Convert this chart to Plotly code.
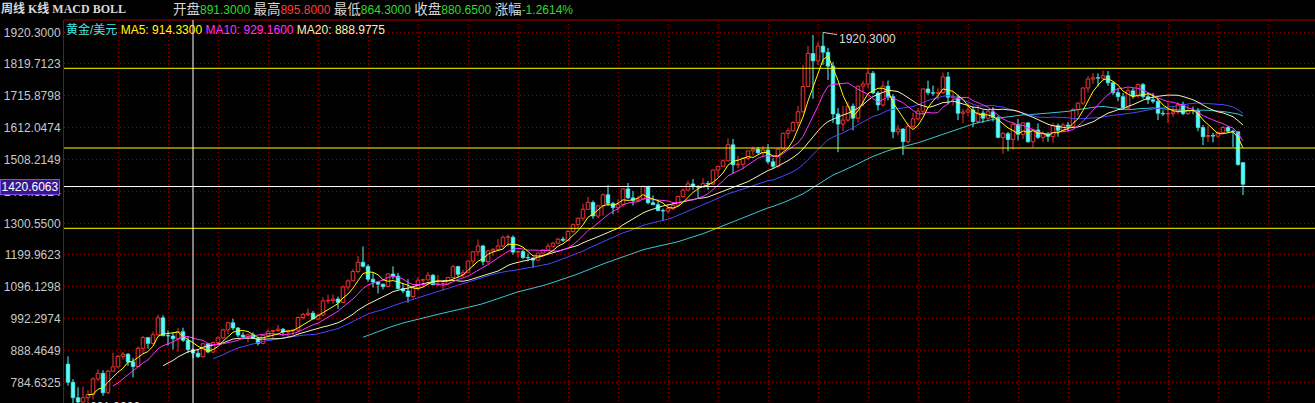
import plotly.graph_objects as go
import pandas as pd

# ---------------- data (weekly gold / USD) ----------------
opens = [845, 786, 736, 722, 736, 746, 797, 815, 752, 822,
         836, 870, 877, 852, 837, 896, 931, 912, 940, 995,
         937, 936, 927, 950, 922, 891.3, 880, 869, 911, 884,
         915, 930, 956, 979, 962, 939, 933, 940, 928, 912,
         938, 951, 954, 958, 949, 953, 955, 996, 1006, 1010,
         991, 1004, 1050, 1051, 1056, 1045, 1095, 1115, 1145, 1175,
         1162, 1120, 1111, 1104, 1096, 1137, 1130, 1090, 1082, 1064,
         1093, 1117, 1118, 1133, 1102, 1105, 1105, 1126, 1161, 1136,
         1141, 1179, 1209, 1228, 1177, 1212, 1217, 1228, 1256, 1256,
         1208, 1210, 1190, 1189, 1182, 1205, 1215, 1227, 1237, 1250,
         1246, 1275, 1297, 1318, 1347, 1369, 1325, 1358, 1394, 1366,
         1352, 1363, 1413, 1384, 1375, 1380, 1421, 1368, 1362, 1343,
         1341, 1349, 1360, 1388, 1409, 1429, 1421, 1418, 1430, 1429,
         1474, 1486, 1504, 1556, 1491, 1493, 1512, 1536, 1542, 1530,
         1539, 1501, 1486, 1542, 1593, 1601, 1628, 1663, 1745, 1852,
         1828, 1876, 1856, 1811, 1656, 1623, 1636, 1681, 1642, 1746,
         1753, 1788, 1724, 1685, 1746, 1712, 1598, 1607, 1566, 1616,
         1640, 1665, 1737, 1725, 1723, 1725, 1776, 1710, 1711, 1658,
         1662, 1669, 1631, 1659, 1642, 1663, 1644, 1580, 1592, 1573,
         1622, 1590, 1627, 1566, 1604, 1580, 1591, 1583, 1618, 1603,
         1620, 1616, 1670, 1691, 1740, 1769, 1773, 1772, 1780, 1757,
         1725, 1712, 1676, 1731, 1714, 1751, 1712, 1702, 1697, 1658,
         1656, 1657, 1662, 1687, 1657, 1667, 1666, 1612, 1582, 1586,
         1584, 1596, 1612, 1600, 1598, 1498]
highs = [870, 796, 770, 772, 760, 802, 828, 825, 826, 882,
         875, 885, 881, 865, 902, 936, 933, 950, 1005, 1003,
         954, 948, 962, 963, 935, 895.8, 894, 914, 914, 918,
         934, 960, 981, 992, 965, 948, 944, 948, 934, 940,
         958, 956, 972, 962, 953, 959, 999, 1011, 1025, 1017,
         1009, 1062, 1070, 1071, 1064, 1100, 1120, 1153, 1195, 1226,
         1168, 1141, 1112, 1106, 1139, 1162, 1141, 1105, 1120, 1095,
         1127, 1122, 1144, 1137, 1134, 1110, 1128, 1167, 1164, 1151,
         1180, 1211, 1249, 1232, 1216, 1221, 1250, 1262, 1265, 1262,
         1214, 1215, 1203, 1191, 1206, 1216, 1236, 1241, 1254, 1258,
         1280, 1300, 1320, 1365, 1387, 1375, 1362, 1398, 1425, 1371,
         1381, 1415, 1432, 1406, 1391, 1424, 1423, 1392, 1376, 1349,
         1364, 1368, 1390, 1415, 1440, 1445, 1425, 1448, 1439, 1476,
         1488, 1509, 1577, 1575, 1520, 1515, 1537, 1550, 1549, 1552,
         1558, 1512, 1545, 1595, 1610, 1632, 1682, 1815, 1877, 1912,
         1890, 1920.3, 1870, 1825, 1675, 1682, 1695, 1690, 1747, 1764,
         1803, 1795, 1730, 1763, 1764, 1720, 1620, 1610, 1627, 1660,
         1675, 1740, 1764, 1748, 1739, 1790, 1792, 1726, 1718, 1672,
         1692, 1680, 1684, 1668, 1667, 1678, 1650, 1597, 1598, 1627,
         1640, 1628, 1630, 1605, 1625, 1600, 1597, 1628, 1625, 1627,
         1630, 1675, 1693, 1742, 1778, 1788, 1787, 1796, 1795, 1762,
         1738, 1724, 1740, 1740, 1755, 1756, 1724, 1724, 1705, 1668,
         1693, 1679, 1694, 1696, 1684, 1680, 1675, 1620, 1617, 1595,
         1600, 1616, 1617, 1605, 1600, 1500]
lows = [775, 681, 700, 708, 710, 730, 790, 742, 748, 820,
        833, 859, 839, 802, 835, 878, 895, 908, 938, 935,
        905, 892, 885, 917, 880, 864.3, 865, 866, 880, 882,
        910, 926, 942, 955, 932, 925, 915, 926, 905, 909,
        935, 927, 949, 937, 932, 939, 949, 989, 1000, 990,
        988, 1000, 1041, 1040, 1024, 1044, 1085, 1113, 1139, 1158,
        1112, 1093, 1074, 1087, 1094, 1120, 1087, 1075, 1044, 1058,
        1083, 1093, 1115, 1101, 1098, 1083, 1104, 1125, 1126, 1126,
        1140, 1164, 1196, 1165, 1169, 1195, 1213, 1222, 1226, 1200,
        1190, 1186, 1178, 1157, 1180, 1192, 1213, 1222, 1233, 1241,
        1243, 1270, 1287, 1310, 1346, 1316, 1318, 1326, 1357, 1330,
        1336, 1355, 1380, 1359, 1370, 1378, 1363, 1360, 1340, 1309,
        1333, 1344, 1356, 1385, 1406, 1410, 1381, 1416, 1410, 1425,
        1452, 1485, 1503, 1462, 1480, 1479, 1507, 1521, 1526, 1515,
        1494, 1478, 1482, 1538, 1577, 1600, 1615, 1660, 1742, 1705,
        1815, 1815, 1766, 1627, 1532, 1600, 1630, 1603, 1628, 1680,
        1740, 1721, 1667, 1680, 1700, 1577, 1586, 1523, 1560, 1610,
        1636, 1650, 1718, 1715, 1702, 1720, 1688, 1683, 1636, 1627,
        1650, 1613, 1625, 1627, 1631, 1631, 1577, 1527, 1535, 1540,
        1570, 1575, 1562, 1547, 1575, 1565, 1566, 1563, 1582, 1598,
        1598, 1610, 1651, 1685, 1725, 1754, 1745, 1765, 1747, 1718,
        1697, 1673, 1672, 1705, 1708, 1705, 1688, 1690, 1636, 1649,
        1626, 1645, 1655, 1652, 1653, 1655, 1600, 1555, 1565, 1564,
        1578, 1594, 1595, 1548, 1488, 1393]
closes = [786, 736, 722, 736, 746, 797, 815, 752, 822, 836,
          870, 877, 852, 837, 896, 931, 912, 940, 995, 937,
          936, 927, 950, 922, 891.9, 880.65, 869, 911, 884, 915,
          930, 956, 979, 962, 939, 933, 940, 928, 912, 938,
          951, 954, 958, 949, 953, 955, 996, 1006, 1010, 991,
          1004, 1050, 1051, 1056, 1045, 1095, 1115, 1145, 1175, 1162,
          1120, 1111, 1104, 1096, 1137, 1130, 1090, 1082, 1064, 1093,
          1117, 1118, 1133, 1102, 1105, 1105, 1126, 1161, 1136, 1141,
          1179, 1209, 1228, 1177, 1212, 1217, 1228, 1256, 1256, 1208,
          1210, 1190, 1189, 1182, 1205, 1215, 1227, 1237, 1250, 1246,
          1275, 1297, 1318, 1347, 1369, 1325, 1358, 1394, 1366, 1352,
          1363, 1413, 1384, 1375, 1380, 1421, 1368, 1362, 1343, 1341,
          1349, 1360, 1388, 1409, 1429, 1421, 1418, 1430, 1429, 1474,
          1486, 1504, 1556, 1491, 1493, 1512, 1536, 1542, 1530, 1539,
          1501, 1486, 1542, 1593, 1601, 1628, 1663, 1745, 1852, 1828,
          1876, 1856, 1811, 1656, 1623, 1636, 1681, 1642, 1746, 1753,
          1788, 1724, 1685, 1746, 1712, 1598, 1607, 1566, 1616, 1640,
          1665, 1737, 1725, 1723, 1725, 1776, 1710, 1711, 1658, 1662,
          1669, 1631, 1659, 1642, 1663, 1644, 1580, 1592, 1573, 1622,
          1590, 1627, 1566, 1604, 1580, 1591, 1583, 1618, 1603, 1620,
          1616, 1670, 1691, 1740, 1769, 1773, 1772, 1780, 1757, 1725,
          1712, 1676, 1731, 1714, 1751, 1712, 1702, 1697, 1658, 1656,
          1657, 1662, 1687, 1657, 1667, 1666, 1612, 1582, 1586, 1584,
          1596, 1612, 1600, 1598, 1492, 1428]

ma_periods = [5, 10, 20, 30, 60]
ma_colors = ["#FFFF00", "#FF30FF", "#F2F2B8", "#4848FF", "#38C8D0"]
legend_ma_values = [914.33, 929.16, 888.9775]      # header legend as shown
crosshair_index = 25
crosshair_price = 1420.6063
level_lines = [1803.9, 1545.5, 1285.2]
ytick_vals = [1920.3, 1819.7123, 1715.8798, 1612.0474, 1508.2149, 1404.3824,
              1300.55, 1199.9623, 1096.1298, 992.2974, 888.4649, 784.6325]
ytick_text = ["1920.3000", "1819.7123", "1715.8798", "1612.0474", "1508.2149", "1404.3824",
              "1300.5500", "1199.9623", "1096.1298", "992.2974", "888.4649", "784.6325"]
xgrid_vals = [10.06 + 10 * k for k in range(25)]

# ---------------- derived ----------------
n = len(closes)
xs = list(range(n))
s = pd.Series(closes, dtype=float)
mas = {p: s.rolling(p).mean() for p in ma_periods}

UP = "#F03434"
DOWN = "#54FCFC"
BG = "#000000"
GRID = "#8C0000"

fig = go.Figure()

# wicks (upper and lower parts, outside the body)
for is_up, col in ((True, UP), (False, DOWN)):
    wx, wy = [], []
    for i in xs:
        o, h, l, c = opens[i], highs[i], lows[i], closes[i]
        if (c >= o) != is_up:
            continue
        top, bot = max(o, c), min(o, c)
        if h > top:
            wx += [i, i, None]
            wy += [top, h, None]
        if l < bot:
            wx += [i, i, None]
            wy += [bot, l, None]
    fig.add_trace(go.Scatter(x=wx, y=wy, mode="lines", line=dict(color=col, width=1),
                             hoverinfo="skip", showlegend=False))

# bodies
for is_up in (True, False):
    bx, bbase, bh = [], [], []
    for i in xs:
        o, c = opens[i], closes[i]
        if (c >= o) != is_up:
            continue
        bx.append(i)
        bbase.append(min(o, c))
        bh.append(max(abs(c - o), 1.5))
    if is_up:
        fig.add_trace(go.Bar(x=bx, y=bh, base=bbase, width=0.72,
                             marker=dict(color=BG, line=dict(color=UP, width=1)),
                             showlegend=False, hoverinfo="skip"))
    else:
        fig.add_trace(go.Bar(x=bx, y=bh, base=bbase, width=0.72,
                             marker=dict(color=DOWN, line=dict(color=DOWN, width=0.6)),
                             showlegend=False, hoverinfo="skip"))

# moving averages (long ones first, so short ones lie on top)
for p, col in reversed(list(zip(ma_periods, ma_colors))):
    fig.add_trace(go.Scatter(x=xs, y=mas[p], mode="lines", line=dict(color=col, width=1),
                             hoverinfo="skip", showlegend=False, connectgaps=False))

# ---------------- layout ----------------
L, T, W, H = 64, 20, 1315, 403
PW, PH = W - L, H - T


def px_x(px):
    return (px - L) / PW


def px_y(py):
    return (H - py) / PH


y_top = 784.63 + (382.7 - T) * 3.242
y_bot = 784.63 - (H - 382.7) * 3.242

fig.update_layout(
    width=W, height=H,
    margin=dict(l=L, r=0, t=T, b=0),
    paper_bgcolor=BG, plot_bgcolor=BG,
    barmode="overlay", showlegend=False,
    font=dict(family="Arial, 'Liberation Sans', 'Noto Sans CJK SC', sans-serif", size=12, color="#C8C8C8"),
    xaxis=dict(range=[-0.8, (W - 68) / 5.0], showticklabels=False, ticks="",
               tickvals=xgrid_vals, showgrid=True, gridcolor=GRID, griddash="1px,3px", gridwidth=1,
               zeroline=False, showline=False, fixedrange=True),
    yaxis=dict(range=[y_bot, y_top], tickvals=ytick_vals, ticktext=ytick_text,
               tickfont=dict(color="#C8C8C8", size=12, family="Arial, 'Liberation Sans', sans-serif"),
               showgrid=True, gridcolor=GRID, griddash="1px,3px", gridwidth=1,
               zeroline=False, showline=True, linecolor="#A00000", linewidth=1,
               ticks="", fixedrange=True),
)

shapes = []
# separator under header
shapes.append(dict(type="line", xref="paper", yref="paper", x0=0, x1=1, y0=1, y1=1,
                   line=dict(color="#A00000", width=1)))
for lv in level_lines:
    shapes.append(dict(type="line", xref="paper", yref="y", x0=0, x1=1, y0=lv, y1=lv,
                       line=dict(color="#FFFF00", width=1)))
shapes.append(dict(type="line", xref="paper", yref="y", x0=0, x1=1,
                   y0=crosshair_price, y1=crosshair_price, line=dict(color="#FFFFFF", width=1)))
shapes.append(dict(type="line", xref="x", yref="paper", x0=crosshair_index, x1=crosshair_index,
                   y0=0, y1=1, line=dict(color="#FFFFFF", width=1)))
fig.update_layout(shapes=shapes)

i = crosshair_index
chg = (closes[i] - closes[i - 1]) / closes[i - 1] * 100
GREEN = "#2EDB2E"
RED = "#FF3C3C"
LBL = "#D8D8D8"


def val_color(v, ref):
    return RED if v > ref else GREEN


def lbl(t):
    return f"<span style='color:{LBL};font-size:13.5px'>{t}</span>"


ref_close = closes[i - 1]
header = (f"{lbl('开盘')}<span style='color:{val_color(opens[i], ref_close)}'>{opens[i]:.4f}</span> "
          f"{lbl('最高')}<span style='color:{val_color(highs[i], ref_close)}'>{highs[i]:.4f}</span> "
          f"{lbl('最低')}<span style='color:{val_color(lows[i], ref_close)}'>{lows[i]:.4f}</span> "
          f"{lbl('收盘')}<span style='color:{val_color(closes[i], ref_close)}'>{closes[i]:.4f}</span> "
          f"{lbl('涨幅')}<span style='color:{GREEN if chg < 0 else RED}'>{chg:.4f}%</span>")

legend = (f"<span style='color:#40E8E8'>黄金/美元</span> "
          f"<span style='color:{ma_colors[0]}'>MA5: {legend_ma_values[0]:.4f}</span> "
          f"<span style='color:{ma_colors[1]}'>MA10: {legend_ma_values[1]:.4f}</span> "
          f"<span style='color:{ma_colors[2]}'>MA20: {legend_ma_values[2]:.4f}</span>")

imax = max(xs, key=lambda k: highs[k])
imin = min(xs, key=lambda k: lows[k])

annotations = [
    dict(xref="paper", yref="paper", x=px_x(-1), y=px_y(9), xanchor="left", yanchor="middle",
         text="<b>周线 K线 MACD BOLL</b>", showarrow=False,
         font=dict(family="'Liberation Serif', 'Noto Sans CJK SC', serif", size=12, color="#D8D8D8")),
    dict(xref="paper", yref="paper", x=px_x(171), y=px_y(9), xanchor="left", yanchor="middle",
         text=header, showarrow=False, font=dict(size=12)),
    dict(xref="paper", yref="paper", x=px_x(64), y=px_y(29), xanchor="left", yanchor="middle",
         text=legend, showarrow=False, font=dict(size=12)),
    dict(xref="x", yref="y", x=imax, y=highs[imax], text=f"{highs[imax]:.4f}",
         showarrow=True, arrowhead=0, arrowwidth=1, arrowcolor="#C8C8C8", ax=44, ay=7,
         font=dict(size=12, color="#D8D8D8")),
    dict(xref="x", yref="paper", x=imin + 3, y=px_y(398), xanchor="left", yanchor="top",
         text=f"{lows[imin]:.4f}", showarrow=False, font=dict(size=12, color="#D8D8D8")),
    dict(xref="paper", yref="y", x=px_x(0), y=crosshair_price, xanchor="left", yanchor="middle",
         text=f"{crosshair_price:.4f}", showarrow=False, width=58, height=14,
         bgcolor="#3A168C", bordercolor="#7A50E0", borderwidth=1, borderpad=0,
         font=dict(size=12, color="#FFFFFF")),
]
fig.update_layout(annotations=annotations)

fig.write_html("out.html", config={"displayModeBar": False},
               post_script="document.body.style.margin='0px';document.body.style.overflow='hidden';")
